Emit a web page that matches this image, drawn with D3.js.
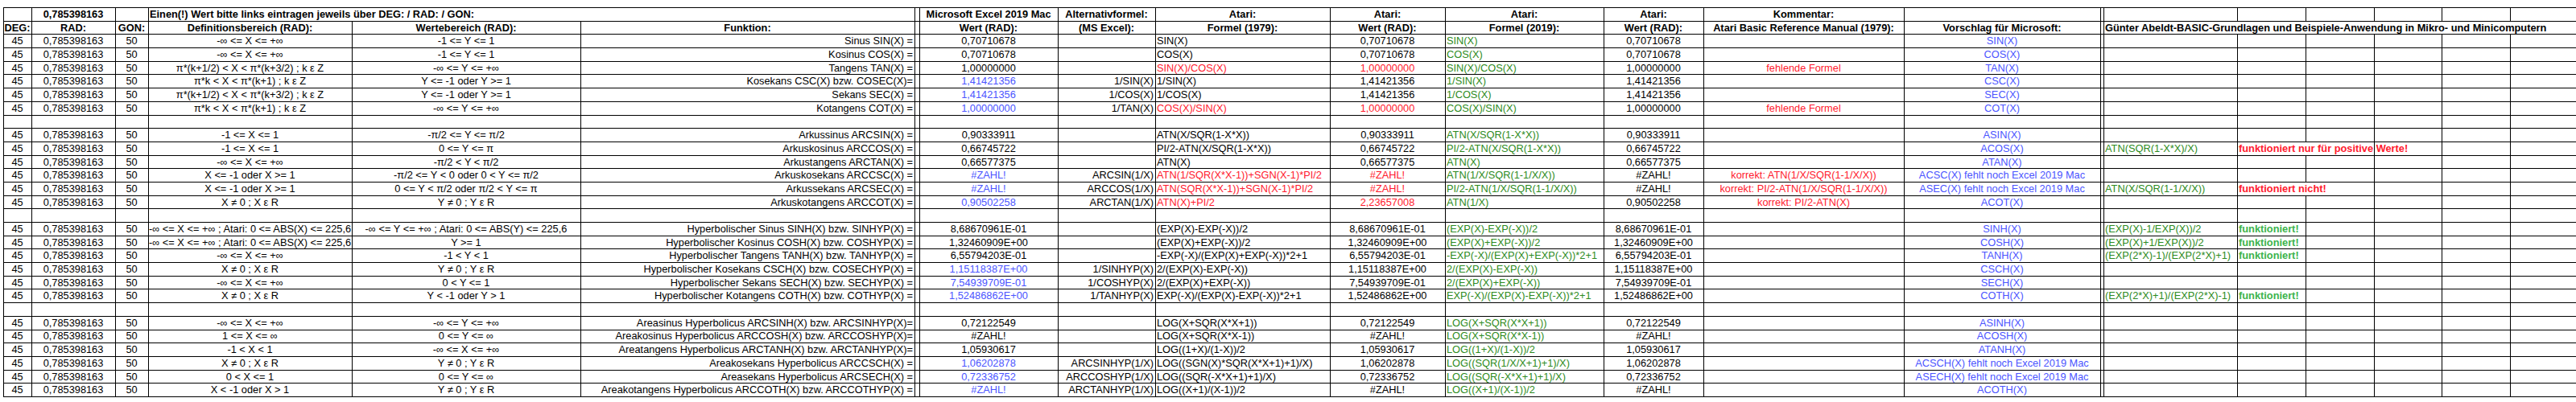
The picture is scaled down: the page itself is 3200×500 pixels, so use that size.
<!DOCTYPE html>
<html>
<head>
<meta charset="utf-8">
<script src="https://cdn.jsdelivr.net/npm/d3@7"></script>
<style>
body { margin: 0; background: #fff; }
text { font-family: "Liberation Sans", Arial, sans-serif; font-size: 12.8px; }
</style>
</head>
<body>
<svg id="chart" width="3200" height="500"></svg>
<script>
// ---- table content, one group of 6 rows per function family ----
var funktion = [
  "Sinus SIN(X) =", "Kosinus COS(X) =", "Tangens TAN(X) =", "Kosekans CSC(X) bzw. COSEC(X)=", "Sekans SEC(X) =", "Kotangens COT(X) =",
  "Arkussinus ARCSIN(X) =", "Arkuskosinus ARCCOS(X) =", "Arkustangens ARCTAN(X) =", "Arkuskosekans ARCCSC(X) =", "Arkussekans ARCSEC(X) =", "Arkuskotangens ARCCOT(X) =",
  "Hyperbolischer Sinus SINH(X) bzw. SINHYP(X) =", "Hyperbolischer Kosinus COSH(X) bzw. COSHYP(X) =", "Hyperbolischer Tangens TANH(X) bzw. TANHYP(X) =", "Hyperbolischer Kosekans CSCH(X) bzw. COSECHYP(X) =", "Hyperbolischer Sekans SECH(X) bzw. SECHYP(X) =", "Hyperbolischer Kotangens COTH(X) bzw. COTHYP(X) =",
  "Areasinus Hyperbolicus ARCSINH(X) bzw. ARCSINHYP(X)=", "Areakosinus Hyperbolicus ARCCOSH(X) bzw. ARCCOSHYP(X)=", "Areatangens Hyperbolicus ARCTANH(X) bzw. ARCTANHYP(X)=", "Areakosekans Hyperbolicus ARCCSCH(X) =", "Areasekans Hyperbolicus ARCSECH(X) =", "Areakotangens Hyperbolicus ARCCOTH(X) bzw. ARCCOTHYP(X) ="
];
var defBereich = [
  "-∞ <= X <= +∞", "-∞ <= X <= +∞", "π*(k+1/2) < X < π*(k+3/2) ; k ε Z", "π*k < X < π*(k+1) ; k ε Z", "π*(k+1/2) < X < π*(k+3/2) ; k ε Z", "π*k < X < π*(k+1) ; k ε Z",
  "-1 <= X <= 1", "-1 <= X <= 1", "-∞ <= X <= +∞", "X <= -1 oder X >= 1", "X <= -1 oder X >= 1", "X ≠ 0 ; X ε R",
  "-∞ <= X <= +∞ ; Atari: 0 <= ABS(X) <= 225,6", "-∞ <= X <= +∞ ; Atari: 0 <= ABS(X) <= 225,6", "-∞ <= X <= +∞", "X ≠ 0 ; X ε R", "-∞ <= X <= +∞", "X ≠ 0 ; X ε R",
  "-∞ <= X <= +∞", "1 <= X <= ∞", "-1 < X < 1", "X ≠ 0 ; X ε R", "0 < X <= 1", "X < -1 oder X > 1"
];
var wertBereich = [
  "-1 <= Y <= 1", "-1 <= Y <= 1", "-∞ <= Y <= +∞", "Y <= -1 oder Y >= 1", "Y <= -1 oder Y >= 1", "-∞ <= Y <= +∞",
  "-π/2 <= Y <= π/2", "0 <= Y <= π", "-π/2 < Y < π/2", "-π/2 <= Y < 0 oder 0 < Y <= π/2", "0 <= Y < π/2 oder π/2 < Y <= π", "Y ≠ 0 ; Y ε R",
  "-∞ <= Y <= +∞ ; Atari: 0 <= ABS(Y) <= 225,6", "Y >= 1", "-1 < Y < 1", "Y ≠ 0 ; Y ε R", "0 < Y <= 1", "Y < -1 oder Y > 1",
  "-∞ <= Y <= +∞", "0 <= Y <= ∞", "-∞ <= X <= +∞", "Y ≠ 0 ; Y ε R", "0 <= Y <= ∞", "Y ≠ 0 ; Y ε R"
];
var excelWert = [
  "0,70710678", "0,70710678", "1,00000000", "1,41421356", "1,41421356", "1,00000000",
  "0,90333911", "0,66745722", "0,66577375", "#ZAHL!", "#ZAHL!", "0,90502258",
  "8,68670961E-01", "1,32460909E+00", "6,55794203E-01", "1,15118387E+00", "7,54939709E-01", "1,52486862E+00",
  "0,72122549", "#ZAHL!", "1,05930617", "1,06202878", "0,72336752", "#ZAHL!"
];
var alternativ = [
  "", "", "", "1/SIN(X)", "1/COS(X)", "1/TAN(X)",
  "", "", "", "ARCSIN(1/X)", "ARCCOS(1/X)", "ARCTAN(1/X)",
  "", "", "", "1/SINHYP(X)", "1/COSHYP(X)", "1/TANHYP(X)",
  "", "", "", "ARCSINHYP(1/X)", "ARCCOSHYP(1/X)", "ARCTANHYP(1/X)"
];
var atari1979 = [
  "SIN(X)", "COS(X)", "SIN(X)/COS(X)", "1/SIN(X)", "1/COS(X)", "COS(X)/SIN(X)",
  "ATN(X/SQR(1-X*X))", "PI/2-ATN(X/SQR(1-X*X))", "ATN(X)", "ATN(1/SQR(X*X-1))+SGN(X-1)*PI/2", "ATN(SQR(X*X-1))+SGN(X-1)*PI/2", "ATN(X)+PI/2",
  "(EXP(X)-EXP(-X))/2", "(EXP(X)+EXP(-X))/2", "-EXP(-X)/(EXP(X)+EXP(-X))*2+1", "2/(EXP(X)-EXP(-X))", "2/(EXP(X)+EXP(-X))", "EXP(-X)/(EXP(X)-EXP(-X))*2+1",
  "LOG(X+SQR(X*X+1))", "LOG(X+SQR(X*X-1))", "LOG((1+X)/(1-X))/2", "LOG((SGN(X)*SQR(X*X+1)+1)/X)", "LOG((SQR(-X*X+1)+1)/X)", "LOG((X+1)/(X-1))/2"
];
var atariWert1979 = [
  "0,70710678", "0,70710678", "1,00000000", "1,41421356", "1,41421356", "1,00000000",
  "0,90333911", "0,66745722", "0,66577375", "#ZAHL!", "#ZAHL!", "2,23657008",
  "8,68670961E-01", "1,32460909E+00", "6,55794203E-01", "1,15118387E+00", "7,54939709E-01", "1,52486862E+00",
  "0,72122549", "#ZAHL!", "1,05930617", "1,06202878", "0,72336752", "#ZAHL!"
];
var atari2019 = [
  "SIN(X)", "COS(X)", "SIN(X)/COS(X)", "1/SIN(X)", "1/COS(X)", "COS(X)/SIN(X)",
  "ATN(X/SQR(1-X*X))", "PI/2-ATN(X/SQR(1-X*X))", "ATN(X)", "ATN(1/X/SQR(1-1/X/X))", "PI/2-ATN(1/X/SQR(1-1/X/X))", "ATN(1/X)",
  "(EXP(X)-EXP(-X))/2", "(EXP(X)+EXP(-X))/2", "-EXP(-X)/(EXP(X)+EXP(-X))*2+1", "2/(EXP(X)-EXP(-X))", "2/(EXP(X)+EXP(-X))", "EXP(-X)/(EXP(X)-EXP(-X))*2+1",
  "LOG(X+SQR(X*X+1))", "LOG(X+SQR(X*X-1))", "LOG((1+X)/(1-X))/2", "LOG((SQR(1/X/X+1)+1)/X)", "LOG((SQR(-X*X+1)+1)/X)", "LOG((X+1)/(X-1))/2"
];
var atariWert2019 = [
  "0,70710678", "0,70710678", "1,00000000", "1,41421356", "1,41421356", "1,00000000",
  "0,90333911", "0,66745722", "0,66577375", "#ZAHL!", "#ZAHL!", "0,90502258",
  "8,68670961E-01", "1,32460909E+00", "6,55794203E-01", "1,15118387E+00", "7,54939709E-01", "1,52486862E+00",
  "0,72122549", "#ZAHL!", "1,05930617", "1,06202878", "0,72336752", "#ZAHL!"
];
var kommentar = [
  "", "", "fehlende Formel", "", "", "fehlende Formel",
  "", "", "", "korrekt: ATN(1/X/SQR(1-1/X/X))", "korrekt: PI/2-ATN(1/X/SQR(1-1/X/X))", "korrekt: PI/2-ATN(X)",
  "", "", "", "", "", "",
  "", "", "", "", "", ""
];
var vorschlag = [
  "SIN(X)", "COS(X)", "TAN(X)", "CSC(X)", "SEC(X)", "COT(X)",
  "ASIN(X)", "ACOS(X)", "ATAN(X)", "ACSC(X) fehlt noch Excel 2019 Mac", "ASEC(X) fehlt noch Excel 2019 Mac", "ACOT(X)",
  "SINH(X)", "COSH(X)", "TANH(X)", "CSCH(X)", "SECH(X)", "COTH(X)",
  "ASINH(X)", "ACOSH(X)", "ATANH(X)", "ACSCH(X) fehlt noch Excel 2019 Mac", "ASECH(X) fehlt noch Excel 2019 Mac", "ACOTH(X)"
];
var abeldt = [
  "", "", "", "", "", "",
  "", "ATN(SQR(1-X*X)/X)", "", "", "ATN(X/SQR(1-1/X/X))", "",
  "(EXP(X)-1/EXP(X))/2", "(EXP(X)+1/EXP(X))/2", "(EXP(2*X)-1)/(EXP(2*X)+1)", "", "", "(EXP(2*X)+1)/(EXP(2*X)-1)",
  "", "", "", "", "", ""
];
var abeldtNote = [
  "", "", "", "", "", "",
  "", "funktioniert nur für positive Werte!", "", "", "funktioniert nicht!", "",
  "funktioniert!", "funktioniert!", "funktioniert!", "", "", "funktioniert!",
  "", "", "", "", "", ""
];
var deg = "45", rad = "0,785398163", gon = "50";

// colour flags (index within 6-row group)
var excelBlueIdx = [3, 4, 5];
var red1979 = [2, 5, 9, 10, 11];
var redWert1979 = [2, 5, 9, 10, 11];

// ---- layout ----
var colEdges = [4, 39, 143, 184, 437, 721, 1136, 1142, 1314, 1435, 1652, 1795, 1992, 2116, 2365, 2609, 2613, 2779, 2864, 2949, 3033, 3118, 3200];
var nRows = 29; // 2 header + 27 data rows
var y = d3.scaleLinear().domain([0, nRows]).range([9, 493]);

var BLACK = "#000", BLUE = "#4b55ff", RED = "#ff1a2e", GREEN = "#2e8b22", LGREEN = "#3cb44b";

// build data rows with blanks between the groups
var rows = [];
for (var g = 0; g < 4; g++) {
  if (g > 0) rows.push(null);
  for (var k = 0; k < 6; k++) rows.push(g * 6 + k);
}

var svg = d3.select("#chart");
var lines = svg.append("g").attr("stroke", "#000").attr("stroke-width", 1).attr("shape-rendering", "crispEdges");

// horizontal lines
d3.range(nRows + 1).forEach(function(r) {
  lines.append("line").attr("x1", 4).attr("x2", 3200).attr("y1", Math.round(y(r)) + 0.5).attr("y2", Math.round(y(r)) + 0.5);
});

// vertical lines per row
function vline(x, r0, r1) {
  lines.append("line").attr("x1", x + 0.5).attr("x2", x + 0.5)
    .attr("y1", Math.round(y(r0))).attr("y2", Math.round(y(r1)) + 1);
}
var row1Edges = [4, 39, 143, 184, 1136, 1142, 1314, 1435, 1652, 1795, 1992, 2116, 2365, 2609, 2613, 2779, 2864, 2949, 3033, 3118];
row1Edges.forEach(function(x) { vline(x, 0, 1); });
colEdges.filter(function(x) { return x <= 2613; }).forEach(function(x) { vline(x, 1, 2); });
rows.forEach(function(d, i) {
  var r = i + 2;
  colEdges.forEach(function(x) {
    if (x === 3200) return;
    if (d === 7 && (x === 2864)) return;
    if (d === 10 && x === 2864) return;
    vline(x, r, r + 1);
  });
});

var txt = svg.append("g");
function cell(text, c, r, align, color, bold) {
  if (!text) return;
  var x0 = colEdges[c], x1 = colEdges[c + 1];
  var x = align === "middle" ? (x0 + x1) / 2 : align === "end" ? x1 - 2 : x0 + 2;
  txt.append("text").attr("x", x).attr("y", (y(r) + y(r + 1)) / 2 + 4.6)
    .attr("text-anchor", align).attr("fill", color || BLACK)
    .attr("font-weight", bold ? "bold" : null).text(text);
}

// headers
cell(rad, 1, 0, "middle", BLACK, true);
cell("Einen(!) Wert bitte links eintragen jeweils über DEG: / RAD: / GON:", 3, 0, "start", BLACK, true);
cell("Microsoft Excel 2019 Mac", 7, 0, "middle", BLACK, true);
cell("Alternativformel:", 8, 0, "middle", BLACK, true);
cell("Atari:", 9, 0, "middle", BLACK, true);
cell("Atari:", 10, 0, "middle", BLACK, true);
cell("Atari:", 11, 0, "middle", BLACK, true);
cell("Atari:", 12, 0, "middle", BLACK, true);
cell("Kommentar:", 13, 0, "middle", BLACK, true);
var h2 = ["DEG:", "RAD:", "GON:", "Definitionsbereich (RAD):", "Wertebereich (RAD):", "Funktion:", null, "Wert (RAD):", "(MS Excel):", "Formel (1979):", "Wert (RAD):", "Formel (2019):", "Wert (RAD):", "Atari Basic Reference Manual (1979):", "Vorschlag für Microsoft:"];
h2.forEach(function(t, c) { if (t) cell(t, c, 1, "middle", BLACK, true); });
cell("Günter Abeldt-BASIC-Grundlagen und Beispiele-Anwendung in Mikro- und Minicomputern", 16, 1, "start", BLACK, true);

// data
rows.forEach(function(d, i) {
  if (d === null) return;
  var r = i + 2, k = d % 6;
  cell(deg, 0, r, "middle");
  cell(rad, 1, r, "middle");
  cell(gon, 2, r, "middle");
  cell(defBereich[d], 3, r, "middle");
  cell(wertBereich[d], 4, r, "middle");
  cell(funktion[d], 5, r, "end");
  cell(excelWert[d], 7, r, "middle", excelBlueIdx.indexOf(k) >= 0 ? BLUE : BLACK);
  cell(alternativ[d], 8, r, "end");
  cell(atari1979[d], 9, r, "start", red1979.indexOf(d) >= 0 ? RED : BLACK);
  cell(atariWert1979[d], 10, r, "middle", redWert1979.indexOf(d) >= 0 ? RED : BLACK);
  cell(atari2019[d], 11, r, "start", GREEN);
  cell(atariWert2019[d], 12, r, "middle");
  cell(kommentar[d], 13, r, "middle", RED);
  cell(vorschlag[d], 14, r, "middle", BLUE);
  cell(abeldt[d], 16, r, "start", GREEN);
  cell(abeldtNote[d], 17, r, "start", abeldtNote[d].indexOf("funktioniert!") === 0 ? LGREEN : RED, true);
});
</script>
</body>
</html>
